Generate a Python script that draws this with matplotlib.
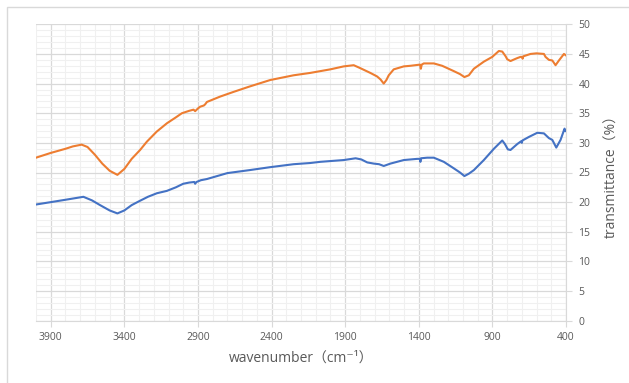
import matplotlib
matplotlib.use("Agg")
import matplotlib.pyplot as plt
from matplotlib.patches import Rectangle
from matplotlib.ticker import MultipleLocator, FixedLocator

plt.rcParams['font.family'] = ['Open Sans', 'DejaVu Sans', 'Noto Sans CJK JP']

# upper spectrum (orange)
wn_a = [4000, 3900, 3800, 3750, 3690, 3650, 3600, 3550, 3500, 3447, 3400, 3350, 3293,
        3247, 3180, 3111, 3050, 3009, 2960, 2930, 2919, 2900, 2885, 2860, 2851, 2839,
        2750, 2658, 2550, 2409, 2250, 2137, 2069, 2001, 1910, 1842, 1797, 1729, 1683,
        1660, 1638, 1620, 1604, 1570, 1502, 1457, 1392, 1386, 1380, 1366, 1298, 1241,
        1162, 1120, 1090, 1060, 1026, 958, 901, 856, 833, 810, 799, 777, 750, 731, 709,
        698, 695, 690, 641, 600, 550, 539, 516, 493, 471, 448, 414, 403]
tr_a = [27.5, 28.3, 29.0, 29.4, 29.7, 29.3, 28.0, 26.5, 25.3, 24.6, 25.6, 27.3, 28.8,
        30.2, 31.9, 33.3, 34.3, 35.0, 35.4, 35.6, 35.35, 35.8, 36.1, 36.3, 36.5, 36.9,
        37.8, 38.6, 39.5, 40.6, 41.4, 41.8, 42.1, 42.4, 42.9, 43.1, 42.6, 41.8, 41.2,
        40.7, 40.0, 40.6, 41.4, 42.4, 42.9, 43.0, 43.2, 42.5, 43.2, 43.4, 43.4, 43.0,
        42.1, 41.6, 41.1, 41.4, 42.5, 43.7, 44.5, 45.5, 45.4, 44.6, 44.1, 43.8, 44.1,
        44.3, 44.5, 44.5, 44.2, 44.6, 45.0, 45.1, 45.0, 44.5, 44.0, 43.9, 43.1, 43.9,
        45.0, 44.8]

# lower spectrum (blue)
wn_b = [4000, 3900, 3800, 3678, 3620, 3565, 3500, 3447, 3400, 3350, 3304, 3240, 3179,
        3111, 3050, 3000, 2960, 2925, 2919, 2910, 2880, 2839, 2700, 2550, 2409, 2250,
        2137, 2069, 1910, 1829, 1790, 1750, 1705, 1670, 1638, 1593, 1502, 1411, 1392,
        1389, 1385, 1343, 1298, 1230, 1162, 1120, 1090, 1060, 1026, 958, 890, 833,
        815, 795, 777, 731, 709, 702, 700, 696, 652, 595, 550, 516, 493, 466, 437,
        410, 403]
tr_b = [19.6, 20.0, 20.4, 20.9, 20.3, 19.5, 18.6, 18.1, 18.6, 19.5, 20.1, 20.9, 21.5,
        21.9, 22.5, 23.1, 23.3, 23.4, 23.1, 23.4, 23.7, 23.9, 24.9, 25.4, 25.9, 26.4,
        26.6, 26.8, 27.1, 27.4, 27.2, 26.7, 26.5, 26.4, 26.1, 26.5, 27.1, 27.3, 27.3,
        26.8, 27.4, 27.5, 27.5, 26.8, 25.7, 25.0, 24.4, 24.8, 25.4, 27.1, 29.0, 30.4,
        29.8, 28.9, 28.8, 29.8, 30.2, 30.3, 30.0, 30.4, 31.0, 31.7, 31.6, 30.8, 30.5,
        29.2, 30.5, 32.4, 32.0]

xticks = [3900, 3400, 2900, 2400, 1900, 1400, 900, 400]

fig = plt.figure(figsize=(6.29, 3.83), dpi=100)
# chart frame: only top and left edges are inside the picture
fig.patches.append(Rectangle((7 / 629, -0.05), 1.1, 1.05 - 7 / 383,
                             transform=fig.transFigure, fill=False,
                             edgecolor='#D9D9D9', linewidth=1.0))

ax = fig.add_axes([36 / 629, 1 - 320.7 / 383, 530 / 629, 296.4 / 383])
ax.plot(wn_a, tr_a, color='#ED7D31', linewidth=1.5, zorder=3)
ax.plot(wn_b, tr_b, color='#4472C4', linewidth=1.5, zorder=3)

ax.set_xlim(4000, 400)
ax.set_ylim(0, 50)

ax.xaxis.set_major_locator(FixedLocator(xticks))
ax.xaxis.set_minor_locator(MultipleLocator(100))
ax.yaxis.set_major_locator(MultipleLocator(5))
ax.yaxis.set_minor_locator(MultipleLocator(1))

ax.grid(which='major', color='#D9D9D9', linewidth=0.9, zorder=0)
ax.grid(which='minor', color='#F0F0F0', linewidth=0.8, zorder=0)
ax.set_axisbelow(True)

for side in ['left', 'top']:
    ax.spines[side].set_visible(False)
ax.spines['bottom'].set_color('#D9D9D9')
ax.spines['right'].set_color('#D9D9D9')

ax.yaxis.tick_right()
ax.yaxis.set_label_position('right')
ax.tick_params(axis='x', which='major', length=4, color='#D9D9D9', labelsize=7.5,
               labelcolor='#595959', pad=4)
ax.tick_params(axis='x', which='minor', length=0)
ax.tick_params(axis='y', which='major', length=4, color='#D9D9D9', labelsize=7.5,
               labelcolor='#595959', pad=5)
ax.tick_params(axis='y', which='minor', length=0)

ax.set_xlabel('wavenumber\uff08cm\u207b\u00b9\uff09', fontsize=10, color='#595959', labelpad=6)
ax.set_ylabel('transmittance\uff08%\uff09', fontsize=10, color='#595959', labelpad=10)

fig.savefig('out.png', dpi=100)
